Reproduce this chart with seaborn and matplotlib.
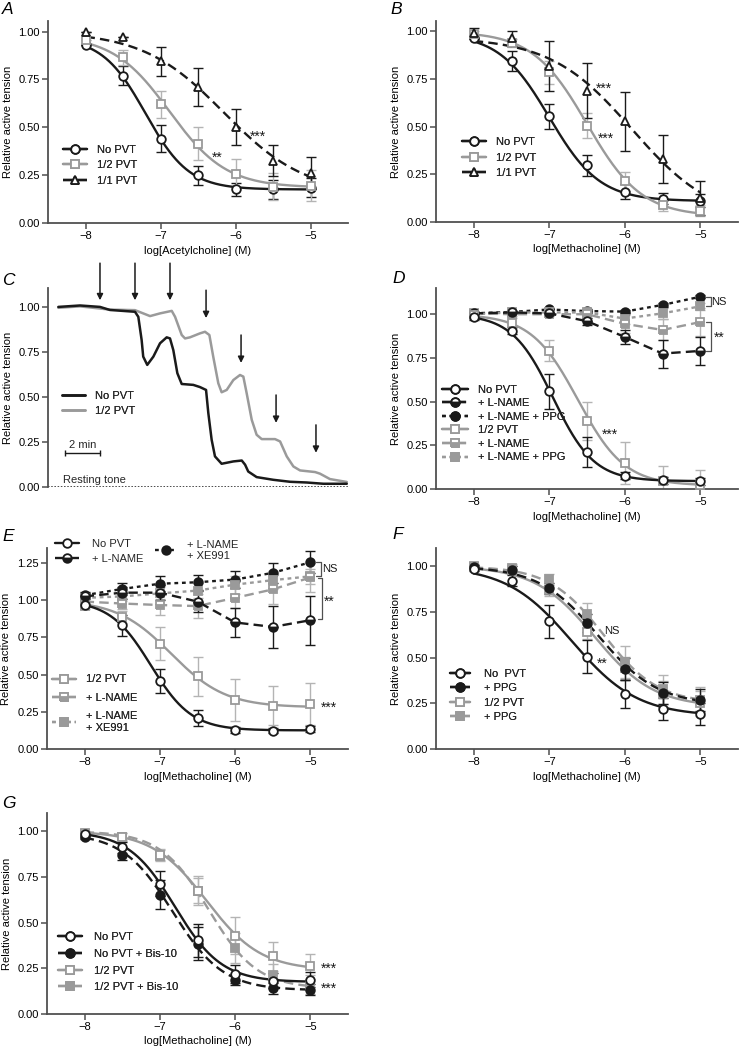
import numpy as np
import matplotlib
matplotlib.use('Agg')
import matplotlib.pyplot as plt
from matplotlib.lines import Line2D
import seaborn as sns

sns.set_theme(style='ticks')
plt.rcParams['font.family'] = ['Liberation Sans', 'DejaVu Sans']
plt.rcParams['font.size'] = 8

W, H = 740, 1050
BLACK = '#1a1a1a'
GRAY = '#9a9a9a'
GRAY_ERR = '#b4b4b4'
SPINE = '#505050'
DASH = (0, (4.0, 2.2))
DOT = (0, (1.6, 1.6))
STAR = 10

# ---------------- data ----------------
conc = [-8, -7.5, -7, -6.5, -6, -5.5, -5]
conc_ticks = [-8, -7, -6, -5]
y_ticks = [0.0, 0.25, 0.5, 0.75, 1.0]
y_ticks_E = [0.0, 0.25, 0.5, 0.75, 1.0, 1.25]

# Panel A (acetylcholine)
A_nopvt = [0.93, 0.77, 0.44, 0.25, 0.175, 0.175, 0.185]
A_nopvt_err = [0.0, 0.05, 0.07, 0.05, 0.035, 0.05, 0.05]
A_half = [0.955, 0.865, 0.62, 0.415, 0.255, 0.19, 0.195]
A_half_err = [0.0, 0.04, 0.07, 0.085, 0.08, 0.07, 0.08]
A_full = [1.0, 0.97, 0.845, 0.71, 0.50, 0.325, 0.26]
A_full_err = [0.0, 0.0, 0.075, 0.10, 0.095, 0.08, 0.085]
# fitted curves: top, bottom, logEC50, Hill slope
A_fit_nopvt = [0.97, 0.175, -7.2, 1.5]
A_fit_half = [0.98, 0.185, -6.88, 1.15]
A_fit_full = [1.0, 0.15, -6.15, 0.8]

# Panel B (methacholine)
B_nopvt = [0.965, 0.845, 0.555, 0.297, 0.16, 0.122, 0.112]
B_nopvt_err = [0.0, 0.05, 0.065, 0.055, 0.04, 0.03, 0.035]
B_half = [0.985, 0.94, 0.785, 0.505, 0.215, 0.09, 0.06]
B_half_err = [0.02, 0.02, 0.06, 0.065, 0.05, 0.03, 0.03]
B_full = [0.99, 0.965, 0.82, 0.69, 0.528, 0.33, 0.125]
B_full_err = [0.03, 0.04, 0.13, 0.145, 0.155, 0.125, 0.09]
B_fit_nopvt = [0.99, 0.11, -7.0, 1.3]
B_fit_half = [1.0, 0.03, -6.5, 1.2]
B_fit_full = [0.97, 0.0, -5.9, 0.8]

# Panel C (tension traces, time in min)
C_nopvt_t = [0.02, 1.26, 2.4, 2.97, 4.4, 4.59, 4.78, 4.87, 5.10, 5.45, 5.83, 6.21, 6.4,
             6.59, 6.82, 7.07, 7.73, 8.11, 8.46, 8.59, 8.78, 8.97, 9.35, 10.02, 10.5,
             10.69, 10.87, 11.35, 12.3, 13.26, 14.21, 15.16, 16.5]
C_nopvt_y = [1.0, 1.008, 1.0, 0.983, 0.973, 0.945, 0.816, 0.724, 0.678, 0.724, 0.798, 0.831,
             0.825, 0.76, 0.632, 0.572, 0.567, 0.555, 0.539, 0.41, 0.262, 0.17, 0.129, 0.142,
             0.147, 0.124, 0.086, 0.055, 0.04, 0.029, 0.025, 0.018, 0.018]
C_half_t = [0.02, 1.26, 2.97, 4.4, 4.87, 5.26, 5.83, 6.5, 6.69, 7.07, 7.26, 7.54, 8.11, 8.4,
            8.65, 8.87, 9.16, 9.35, 9.64, 10.02, 10.4, 10.59, 10.78, 11.07, 11.35, 11.64,
            12.4, 12.69, 13.07, 13.45, 13.83, 14.69, 14.97, 15.54, 16.5]
C_half_y = [0.995, 1.003, 0.985, 0.982, 0.964, 0.949, 0.964, 0.978, 0.945, 0.844, 0.825, 0.831,
            0.853, 0.862, 0.844, 0.724, 0.576, 0.526, 0.539, 0.594, 0.622, 0.613, 0.521,
            0.373, 0.29, 0.266, 0.266, 0.253, 0.17, 0.114, 0.092, 0.083, 0.074, 0.044, 0.028]
C_arrow_t = [2.4, 4.4, 6.4, 8.46, 10.46, 12.46, 14.74]
C_arrow_top = [1.243, 1.243, 1.243, 1.093, 0.844, 0.511, 0.345]
C_arrow_bottom = [1.037, 1.037, 1.037, 0.938, 0.689, 0.356, 0.19]

# Panel D
D_nopvt = [0.985, 0.905, 0.56, 0.21, 0.075, 0.05, 0.045]
D_nopvt_err = [0.02, 0.02, 0.10, 0.085, 0.02, 0.02, 0.02]
D_nopvt_lname = [1.005, 1.01, 1.005, 0.96, 0.87, 0.775, 0.79]
D_nopvt_lname_err = [0.0, 0.0, 0.01, 0.02, 0.04, 0.08, 0.08]
D_nopvt_ppg = [1.005, 1.013, 1.027, 1.018, 1.015, 1.053, 1.10]
D_nopvt_ppg_err = [0.0, 0.0, 0.0, 0.01, 0.01, 0.01, 0.01]
D_half = [0.995, 0.95, 0.79, 0.39, 0.15, 0.045, 0.025]
D_half_err = [0.01, 0.03, 0.06, 0.11, 0.12, 0.085, 0.085]
D_half_lname = [1.005, 1.0, 1.0, 1.0, 0.945, 0.91, 0.955]
D_half_lname_err = [0.0, 0.01, 0.01, 0.02, 0.05, 0.06, 0.08]
D_half_ppg = [1.0, 1.01, 1.01, 1.01, 0.975, 1.005, 1.045]
D_half_ppg_err = [0.0, 0.0, 0.0, 0.01, 0.03, 0.03, 0.02]
D_fit_nopvt = [1.0, 0.045, -6.95, 1.6]
D_fit_half = [1.0, 0.02, -6.62, 1.4]

# Panel E
E_nopvt = [0.965, 0.83, 0.455, 0.208, 0.125, 0.123, 0.137]
E_nopvt_err = [0.01, 0.07, 0.08, 0.055, 0.02, 0.015, 0.02]
E_nopvt_lname = [1.025, 1.05, 1.05, 0.99, 0.85, 0.82, 0.865]
E_nopvt_lname_err = [0.02, 0.04, 0.05, 0.07, 0.095, 0.14, 0.165]
E_nopvt_xe = [1.033, 1.075, 1.11, 1.12, 1.138, 1.183, 1.254]
E_nopvt_xe_err = [0.02, 0.04, 0.05, 0.05, 0.056, 0.065, 0.075]
E_half = [0.96, 0.887, 0.708, 0.488, 0.327, 0.291, 0.302]
E_half_err = [0.02, 0.04, 0.11, 0.13, 0.14, 0.13, 0.14]
E_half_lname = [0.99, 0.977, 0.967, 0.96, 1.015, 1.072, 1.152]
E_half_lname_err = [0.02, 0.04, 0.07, 0.08, 0.07, 0.1, 0.1]
E_half_xe = [1.015, 1.025, 1.045, 1.064, 1.104, 1.134, 1.16]
E_half_xe_err = [0.02, 0.03, 0.04, 0.05, 0.06, 0.06, 0.05]
E_fit_nopvt = [1.0, 0.125, -7.12, 1.6]
E_fit_half = [1.0, 0.28, -6.85, 1.2]

# Panel F
F_nopvt = [0.985, 0.92, 0.70, 0.504, 0.302, 0.22, 0.192]
F_nopvt_err = [0.01, 0.03, 0.09, 0.09, 0.075, 0.06, 0.06]
F_nopvt_ppg = [0.995, 0.98, 0.88, 0.69, 0.44, 0.308, 0.266]
F_nopvt_ppg_err = [0.01, 0.02, 0.03, 0.05, 0.06, 0.06, 0.06]
F_half = [0.998, 0.98, 0.87, 0.643, 0.445, 0.30, 0.25]
F_half_err = [0.01, 0.02, 0.03, 0.04, 0.06, 0.07, 0.07]
F_half_ppg = [1.004, 0.99, 0.93, 0.738, 0.476, 0.326, 0.27]
F_half_ppg_err = [0.01, 0.02, 0.03, 0.06, 0.085, 0.08, 0.07]
F_fit_nopvt = [1.0, 0.18, -6.7, 1.0]
F_fit_nopvt_ppg = [1.0, 0.24, -6.35, 1.1]
F_fit_half = [1.0, 0.23, -6.4, 1.1]
F_fit_half_ppg = [1.0, 0.25, -6.28, 1.2]

# Panel G
G_nopvt = [0.985, 0.912, 0.714, 0.403, 0.219, 0.182, 0.188]
G_nopvt_err = [0.01, 0.03, 0.07, 0.09, 0.05, 0.04, 0.04]
G_nopvt_bis = [0.97, 0.872, 0.653, 0.385, 0.188, 0.142, 0.133]
G_nopvt_bis_err = [0.01, 0.03, 0.08, 0.09, 0.03, 0.03, 0.03]
G_half = [0.99, 0.97, 0.872, 0.675, 0.429, 0.316, 0.261]
G_half_err = [0.01, 0.02, 0.03, 0.08, 0.1, 0.08, 0.07]
G_half_bis = [0.987, 0.969, 0.867, 0.675, 0.361, 0.215, 0.161]
G_half_bis_err = [0.01, 0.02, 0.03, 0.07, 0.08, 0.06, 0.05]
G_fit_nopvt = [1.0, 0.175, -6.8, 1.4]
G_fit_nopvt_bis = [0.99, 0.13, -6.83, 1.3]
G_fit_half = [1.0, 0.24, -6.38, 1.2]
G_fit_half_bis = [1.0, 0.14, -6.35, 1.35]

# ---------------- styles ----------------
STY = {
    'nopvt': dict(color=BLACK, ecolor=BLACK, marker='o', mfc='white', fill='full', ls='-'),
    'lname_b': dict(color=BLACK, ecolor=BLACK, marker='o', mfc=BLACK, fill='bottom', ls=DASH),
    'dot_b': dict(color=BLACK, ecolor=BLACK, marker='o', mfc=BLACK, fill='full', ls=DOT),
    'dash_b': dict(color=BLACK, ecolor=BLACK, marker='o', mfc=BLACK, fill='full', ls=DASH),
    'half': dict(color=GRAY, ecolor=GRAY_ERR, marker='s', mfc='white', fill='full', ls='-'),
    'lname_g': dict(color=GRAY, ecolor=GRAY_ERR, marker='s', mfc=GRAY, fill='bottom', ls=DASH),
    'dot_g': dict(color=GRAY, ecolor=GRAY_ERR, marker='s', mfc=GRAY, fill='full', ls=DOT),
    'dash_g': dict(color=GRAY, ecolor=GRAY_ERR, marker='s', mfc=GRAY, fill='full', ls=DASH),
    'full': dict(color=BLACK, ecolor=BLACK, marker='^', mfc='white', fill='full', ls=DASH),
}
MS = 6.2
MEW = 1.3
LW = 1.7


def logistic(x, p):
    top, bottom, ec50, h = p
    return bottom + (top - bottom) / (1 + 10 ** ((x - ec50) * h))


def series(ax, y, err, key, fit=None):
    s = STY[key]
    ax.errorbar(conc, y, yerr=err, fmt='none', ecolor=s['ecolor'], elinewidth=1.0,
                capsize=3.3, capthick=1.0, zorder=2)
    if fit is not None:
        xs = np.linspace(-8, -5, 200)
        sns.lineplot(x=xs, y=logistic(xs, fit), ax=ax, color=s['color'], lw=LW,
                     linestyle=s['ls'], legend=False, zorder=3)
    else:
        sns.lineplot(x=conc, y=y, ax=ax, color=s['color'], lw=LW, linestyle=s['ls'],
                     legend=False, zorder=3)
    ax.plot(conc, y, ls='none', marker=s['marker'], ms=MS, mfc=s['mfc'], mec=s['color'],
            mew=MEW, fillstyle=s['fill'], markerfacecoloralt='white', zorder=4)


def handle(key, marker=True):
    s = STY[key]
    if not marker:
        return Line2D([], [], color=s['color'], lw=LW * 1.1)
    return Line2D([], [], color=s['color'], lw=LW, ls=s['ls'], marker=s['marker'], ms=MS,
                  mfc=s['mfc'], mec=s['color'], mew=MEW, fillstyle=s['fill'],
                  markerfacecoloralt='white')


def legend(ax, keys, labels, px, py_first, spacing=0.5, hl=2.2, htp=0.9, marker=True):
    hs = [handle(k, marker) for k in keys]
    leg = ax.legend(hs, labels, loc='upper left',
                    bbox_to_anchor=(px / W, 1 - (py_first - 7) / H),
                    bbox_transform=fig.transFigure, frameon=False, borderpad=0,
                    borderaxespad=0, handlelength=hl, handletextpad=htp,
                    labelspacing=spacing, fontsize=8, numpoints=1)
    ax.add_artist(leg)
    return leg


def make_ax(l, r, t, b):
    return fig.add_axes([l / W, 1 - b / H, (r - l) / W, (b - t) / H])


def style_ax(ax, ylim_top, yt=y_ticks, xlabel='log[Methacholine] (M)', xaxis=True):
    ax.set_ylim(0, ylim_top)
    ax.set_yticks(yt)
    ax.set_yticklabels([f'{v:.2f}' for v in yt])
    for sp in ['top', 'right']:
        ax.spines[sp].set_visible(False)
    for sp in ['left', 'bottom']:
        ax.spines[sp].set_color(SPINE)
        ax.spines[sp].set_linewidth(1.3)
    ax.tick_params(direction='out', length=4, width=1.1, color=SPINE, labelcolor='black',
                   labelsize=8, pad=2)
    ax.set_ylabel('Relative active tension', fontsize=8, labelpad=4, color='black')
    if xaxis:
        ax.set_xlim(-8.5, -4.5)
        ax.set_xticks(conc_ticks)
        ax.set_xlabel(xlabel, fontsize=8, labelpad=3, color='black')
    ax.set_facecolor('none')


def letter(px, py, s):
    fig.text(px / W, 1 - py / H, s, fontsize=12.5, style='italic', va='top', ha='left',
             color='black')


def star(ax, x, y, s, ha='center'):
    ax.text(x, y, s, ha=ha, va='center', fontsize=STAR if '*' in s else 8, color=BLACK)


def bracket(ax, x, y1, y2, dx=0.06):
    ax.plot([x - dx, x, x, x - dx], [y1, y1, y2, y2], color=SPINE, lw=0.9, clip_on=False)


fig = plt.figure(figsize=(W / 100, H / 100), dpi=100)
fig.patch.set_facecolor('white')

# ---------------- A ----------------
ax = make_ax(48, 348, 21, 223)
series(ax, A_nopvt, A_nopvt_err, 'nopvt', A_fit_nopvt)
series(ax, A_half, A_half_err, 'half', A_fit_half)
series(ax, A_full, A_full_err, 'full', A_fit_full)
style_ax(ax, 1.055, xlabel='log[Acetylcholine] (M)')
star(ax, -6.24, 0.34, '**')
star(ax, -5.7, 0.45, '***')
legend(ax, ['nopvt', 'half', 'full'], ['No PVT', '1/2 PVT', '1/1 PVT'], 63, 151.7)
letter(2, 2, 'A')

# ---------------- B ----------------
ax = make_ax(436, 738, 21, 222)
series(ax, B_nopvt, B_nopvt_err, 'nopvt', B_fit_nopvt)
series(ax, B_half, B_half_err, 'half', B_fit_half)
series(ax, B_full, B_full_err, 'full', B_fit_full)
style_ax(ax, 1.055)
star(ax, -6.27, 0.70, '***')
star(ax, -6.25, 0.435, '***')
legend(ax, ['nopvt', 'half', 'full'], ['No PVT', '1/2 PVT', '1/1 PVT'], 462, 144)
letter(390, 2, 'B')

# ---------------- C ----------------
ax = make_ax(48, 348, 288, 487)
sns.lineplot(x=C_half_t, y=C_half_y, ax=ax, color=GRAY, lw=1.8, sort=False, legend=False)
sns.lineplot(x=C_nopvt_t, y=C_nopvt_y, ax=ax, color=BLACK, lw=1.8, sort=False, legend=False)
style_ax(ax, 1.105, xaxis=False)
ax.set_xlim(-0.57, 16.57)
ax.spines['bottom'].set_visible(False)
ax.set_xticks([])
ax.set_xlabel('')
ax.axhline(0, color=BLACK, lw=1.1, ls=(0, (1, 1.1)))
for t, y0, y1 in zip(C_arrow_t, C_arrow_top, C_arrow_bottom):
    ax.annotate('', xy=(t, y1), xytext=(t, y0), annotation_clip=False,
                arrowprops=dict(arrowstyle='-|>', color=BLACK, lw=1.1, mutation_scale=9,
                                shrinkA=0, shrinkB=0))
ax.plot([0.4, 2.4], [0.19, 0.19], color=BLACK, lw=1.0, marker='|', ms=5, mew=1.0)
ax.text(1.4, 0.205, '2 min', ha='center', va='bottom', fontsize=8)
ax.text(0.27, 0.012, 'Resting tone', ha='left', va='bottom', fontsize=8)
legend(ax, ['nopvt', 'half'], ['No PVT', '1/2 PVT'], 62, 398, spacing=0.45, hl=2.1,
       htp=0.9, marker=False)
letter(2, 273, 'C')

# ---------------- D ----------------
ax = make_ax(436, 738, 288, 489)
series(ax, D_nopvt_ppg, D_nopvt_ppg_err, 'dot_b')
series(ax, D_half_ppg, D_half_ppg_err, 'dot_g')
series(ax, D_half_lname, D_half_lname_err, 'lname_g')
series(ax, D_nopvt_lname, D_nopvt_lname_err, 'lname_b')
series(ax, D_half, D_half_err, 'half', D_fit_half)
series(ax, D_nopvt, D_nopvt_err, 'nopvt', D_fit_nopvt)
style_ax(ax, 1.15)
bracket(ax, -4.86, 1.10, 1.045)
star(ax, -4.85, 1.072, 'NS', ha='left')
bracket(ax, -4.86, 0.955, 0.79)
star(ax, -4.82, 0.865, '**', ha='left')
star(ax, -6.2, 0.31, '***')
legend(ax, ['nopvt', 'lname_b', 'dot_b', 'half', 'lname_g', 'dot_g'],
       ['No PVT', '+ L-NAME', '+ L-NAME + PPG', '1/2 PVT', '+ L-NAME', '+ L-NAME + PPG'],
       442, 391.7, spacing=0.32, hl=2.3, htp=0.9)
letter(392, 271, 'D')

# ---------------- E ----------------
ax = make_ax(47, 348, 548, 749)
series(ax, E_nopvt_xe, E_nopvt_xe_err, 'dot_b')
series(ax, E_half_xe, E_half_xe_err, 'dot_g')
series(ax, E_half_lname, E_half_lname_err, 'lname_g')
series(ax, E_nopvt_lname, E_nopvt_lname_err, 'lname_b')
series(ax, E_half, E_half_err, 'half', E_fit_half)
series(ax, E_nopvt, E_nopvt_err, 'nopvt', E_fit_nopvt)
style_ax(ax, 1.35, yt=y_ticks_E)
bracket(ax, -4.86, 1.254, 1.165)
star(ax, -4.85, 1.21, 'NS', ha='left')
bracket(ax, -4.84, 1.15, 0.87)
star(ax, -4.82, 0.99, '**', ha='left')
star(ax, -4.86, 0.28, '***', ha='left')
legend(ax, ['nopvt', 'lname_b'], ['No PVT', '+ L-NAME'], 55, 546, spacing=0.45, hl=2.2,
       htp=1.1)
legend(ax, ['dot_b'], ['+ L-NAME\n+ XE991'], 155, 546.5, hl=2.0, htp=0.9)
legend(ax, ['half', 'lname_g', 'dot_g'], ['1/2 PVT', '+ L-NAME', '+ L-NAME\n+ XE991'],
       52, 681.5, spacing=0.75, hl=2.2, htp=0.9)
letter(2, 529, 'E')

# ---------------- F ----------------
ax = make_ax(436, 738, 548, 749)
series(ax, F_half_ppg, F_half_ppg_err, 'dash_g', F_fit_half_ppg)
series(ax, F_half, F_half_err, 'half', F_fit_half)
series(ax, F_nopvt_ppg, F_nopvt_ppg_err, 'dash_b', F_fit_nopvt_ppg)
series(ax, F_nopvt, F_nopvt_err, 'nopvt', F_fit_nopvt)
style_ax(ax, 1.10)
star(ax, -6.17, 0.646, 'NS')
star(ax, -6.3, 0.465, '**')
legend(ax, ['nopvt', 'dash_b', 'half', 'dash_g'], ['No  PVT', '+ PPG', '1/2 PVT', '+ PPG'],
       450, 675.7, spacing=0.4, hl=1.8, htp=1.3)
letter(392, 527, 'F')

# ---------------- G ----------------
ax = make_ax(47, 348, 813, 1014)
series(ax, G_half_bis, G_half_bis_err, 'dash_g', G_fit_half_bis)
series(ax, G_half, G_half_err, 'half', G_fit_half)
series(ax, G_nopvt_bis, G_nopvt_bis_err, 'dash_b', G_fit_nopvt_bis)
series(ax, G_nopvt, G_nopvt_err, 'nopvt', G_fit_nopvt)
style_ax(ax, 1.10)
star(ax, -4.86, 0.25, '***', ha='left')
star(ax, -4.86, 0.138, '***', ha='left')
legend(ax, ['nopvt', 'dash_b', 'half', 'dash_g'],
       ['No PVT', 'No PVT + Bis-10', '1/2 PVT', '1/2 PVT + Bis-10'],
       58, 939.3, spacing=0.6, hl=2.2, htp=1.0)
letter(2, 796, 'G')

fig.savefig('out.png', dpi=100, facecolor='white')
